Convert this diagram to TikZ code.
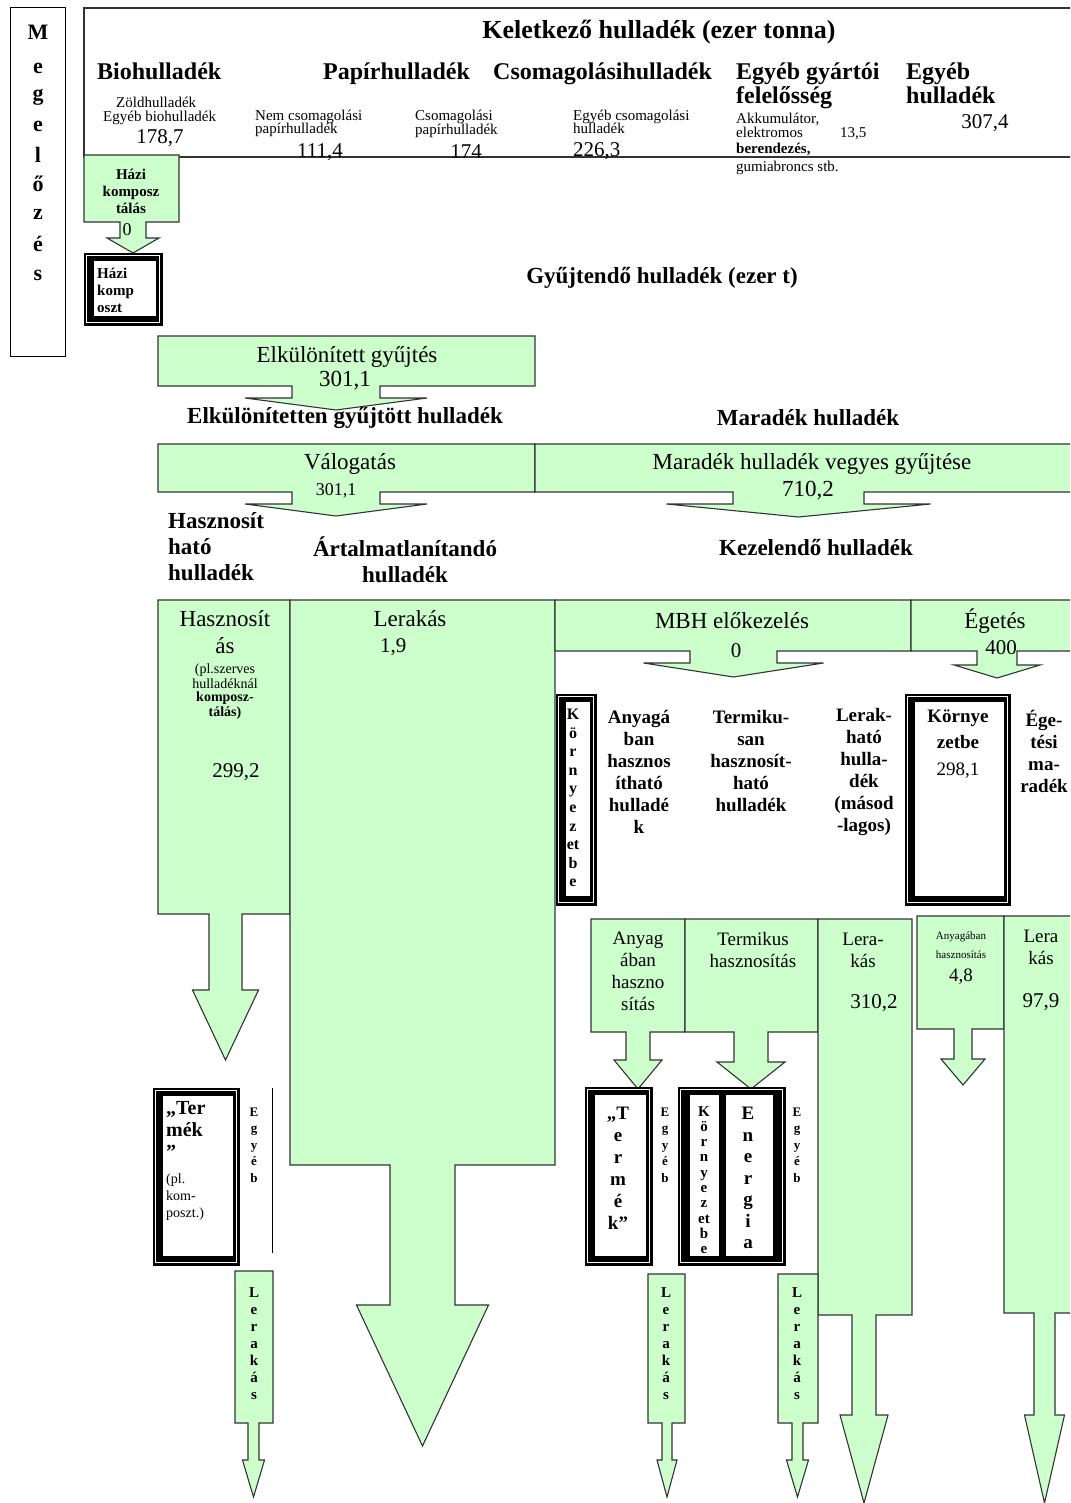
\documentclass[tikz,border=0pt]{standalone}
\usepackage{fontspec}
\setmainfont{Liberation Serif}
\definecolor{boxgreen}{RGB}{204,255,204}

\begin{document}
\begin{tikzpicture}[x=1pt, y=-1pt,
			flow/.style={fill=boxgreen, draw=black!80, line width=1.1pt, line join=miter},
			txt/.style={inner sep=0pt, align=center},
			ttl/.style={txt, font=\fontsize{26}{28}\selectfont\bfseries},
			hdr/.style={txt, anchor=base west, font=\fontsize{24}{26}\selectfont\bfseries},
			lbl/.style={txt, font=\fontsize{23}{26}\selectfont\bfseries},
			boxt/.style={txt, font=\fontsize{23}{27}\selectfont},
			num/.style={txt, font=\fontsize{21}{23}\selectfont},
			sm/.style={txt, anchor=base west, font=\fontsize{15}{13}\selectfont},
			colb/.style={txt, font=\fontsize{19}{22}\selectfont\bfseries},
			cell/.style={txt, font=\fontsize{19}{22}\selectfont},
			stack/.style={txt, font=\fontsize{15}{17}\selectfont\bfseries}
			]
			\useasboundingbox (0,0) rectangle (1070,1503);
			\clip (0,0) rectangle (1070,1503);
			\def\blockarrow#1#2#3#4#5#6#7#8#9{%
				\draw[flow] (#1,#3) -- (#2,#3) -- (#2,#4) -- (#6,#4) -- (#6,#7)
				-- ({(#5+#6)/2+#8},#7) -- ({(#5+#6)/2},#9) -- ({(#5+#6)/2-#8},#7)
				-- (#5,#7) -- (#5,#4) -- (#1,#4) -- cycle;}
			\def\heavyframe#1#2#3#4{%
				\draw[line width=0.8pt, fill=black] (#1,#2) rectangle (#3,#4);
				\draw[line width=0.7pt, white] ({#1+2.5},{#2+2.5}) rectangle ({#3-2.5},{#4-2.5});
				\filldraw[fill=white, draw=black, line width=0.8pt] ({#1+9},{#2+7}) rectangle ({#3-6},{#4-9});}
			
			% Megelozes
			\draw[line width=1pt] (10,8) rectangle (65,356);
			\foreach \ch/\yy in {M/32, e/68, g/97, e/126, l/155, ő/184, z/214, é/244, s/275}
				\node[txt, font=\fontsize{22}{24}\selectfont\bfseries] (meg\yy) at (38,\yy) {\ch};
			
			% keletkezo hulladek
			\draw[line width=1.6pt, black!80] (84,8) rectangle (1080,157);
			\node[ttl] (keletkezo) at (659,32) {Keletkező hulladék (ezer tonna)};
			\node[hdr] (bio) at (97,80) {Biohulladék};
			\node[hdr] (papir) at (323,80) {Papírhulladék};
			\node[hdr] (csomag) at (493,80) {Csomagolásihulladék};
			\node[hdr] (gyartoi) at (736,80) {Egyéb gyártói};
			\node[hdr] (feleloss) at (736,104) {felelősség};
			\node[hdr] (egyeb) at (906,80) {Egyéb};
			\node[hdr] (egyebh) at (906,104) {hulladék};
			\node[sm] (zold) at (116,108) {Zöldhulladék};
			\node[sm] (egyebbio) at (103,122) {Egyéb biohulladék};
			\node[num] (biov) at (160,138) {178,7};
			\node[sm] (nemcs) at (255,121) {Nem csomagolási};
			\node[sm] (nemcsb) at (255,134) {papírhulladék};
			\node[num] (nemcsv) at (320,152) {111,4};
			\node[sm] (csp) at (415,121) {Csomagolási};
			\node[sm] (cspb) at (415,135) {papírhulladék};
			\node[num] (cspv) at (466,152) {174};
			\node[sm] (egycs) at (573,121) {Egyéb csomagolási};
			\node[sm] (egycsb) at (573,134) {hulladék};
			\node[num, anchor=west] (egycsv) at (573,151) {226,3};
			\node[sm] (akku) at (736,124) {Akkumulátor,};
			\node[sm] (elektr) at (736,138) {elektromos};
			\node[sm] (gyartv) at (840,138) {13,5};
			\node[sm, font=\fontsize{15}{13}\selectfont\bfseries] (berend) at (736,154) {berendezés,};
			\node[sm] (gumi) at (736,172) {gumiabroncs stb.};
			\node[num] (egyebv) at (985,123) {307,4};
			
			% hazi komposztalas
			\blockarrow{84}{179}{155}{222}{120}{146}{238}{26}{253}
			\node[txt, font=\fontsize{15}{17}\selectfont\bfseries] (hazik) at (131,191) {Házi\\komposz\\tálás};
			\node[num, font=\fontsize{18}{20}\selectfont] (haziv) at (127,230) {0};
			\heavyframe{84}{253}{162}{325}
			\node[txt, align=left, anchor=west, font=\fontsize{15}{17}\selectfont\bfseries] (hazib) at (97,290) {Házi\\komp\\oszt};
			
			\node[lbl] (gyujtendo) at (662,278) {Gyűjtendő hulladék (ezer t)};
			
			% elkulonitett gyujtes
			\blockarrow{158}{535}{336}{386}{292}{380}{398}{91}{410}
			\node[boxt] (elkul) at (347,357) {Elkülönített gyűjtés};
			\node[boxt] (elkulv) at (345,381) {301,1};
			\node[lbl] (elkulh) at (345,418) {Elkülönítetten gyűjtött hulladék};
			\node[lbl] (maradek) at (808,418) {Maradék hulladék};
			
			\blockarrow{158}{535}{444}{492}{292}{380}{504}{91}{516}
			\node[boxt] (valog) at (350,464) {Válogatás};
			\node[num, font=\fontsize{18}{20}\selectfont] (valogv) at (336,491) {301,1};
			\blockarrow{535}{1080}{444}{492}{733}{864}{504}{132}{517}
			\node[boxt] (vegyes) at (812,464) {Maradék hulladék vegyes gyűjtése};
			\node[boxt] (vegyesv) at (808,491) {710,2};
			
			\node[lbl, align=left, anchor=west] (haszn) at (168,547) {Hasznosít\\ható\\hulladék};
			\node[lbl] (artalm) at (405,560) {Ártalmatlanítandó\\hulladék};
			\node[lbl] (kezel) at (816,548) {Kezelendő hulladék};
			
			% kezeles
			\blockarrow{158}{290}{600}{914}{209}{242}{990}{33}{1060}
			\node[boxt] (hasznt) at (225,632) {Hasznosít\\ás};
			\node[txt, font=\fontsize{14}{15}\selectfont] (hasznpl) at (225,676) {(pl.szerves\\hulladéknál};
			\node[txt, font=\fontsize{14}{15}\selectfont\bfseries] (hasznk) at (225,706) {komposz-\\tálás)};
			\node[num] (hasznv) at (236,772) {299,2};
			\blockarrow{290}{555}{600}{1165}{390}{455}{1305}{66}{1446}
			\node[boxt] (lerak) at (410,619) {Lerakás};
			\node[num, anchor=west] (lerakv) at (380,647) {1,9};
			\blockarrow{555}{911}{600}{651}{690}{777}{663}{90}{677}
			\node[boxt] (mbh) at (732,621) {MBH előkezelés};
			\node[num] (mbhv) at (736,651) {0};
			\blockarrow{911}{1080}{600}{651}{977}{1017}{665}{43}{678}
			\node[boxt] (eget) at (995,621) {Égetés};
			\node[num] (egetv) at (1001,648) {400};
			
			\heavyframe{556}{694}{596}{905}
			\node[txt, font=\fontsize{16}{18.6}\selectfont\bfseries] (kornyb) at (573,798) {K\\ö\\r\\n\\y\\e\\z\\et\\b\\e};
			\node[colb] (anyaga) at (639,772) {Anyagá\\ban\\hasznos\\ítható\\hulladé\\k};
			\node[colb] (termiku) at (751,761) {Termiku-\\san\\hasznosít-\\ható\\hulladék};
			\node[colb] (lerakh) at (864,772) {Lerak-\\ható\\hulla-\\dék\\(másod\\-lagos)};
			\heavyframe{905}{694}{1010}{905}
			\node[colb, font=\fontsize{19}{26}\selectfont\bfseries] (kornyj) at (958,729) {Környe\\zetbe};
			\node[num, font=\fontsize{19}{21}\selectfont] (kornyjv) at (958,771) {298,1};
			\node[colb] (egetm) at (1044,751) {Ége-\\tési\\ma-\\radék};
			
			\blockarrow{591}{685}{919}{1032}{626}{650}{1060}{24}{1089}
			\node[cell] (anyag) at (638,971) {Anyag\\ában\\haszno\\sítás};
			\blockarrow{685}{818}{919}{1032}{734}{768}{1062}{34}{1089}
			\node[cell] (termik) at (753,950) {Termikus\\hasznosítás};
			\blockarrow{818}{912}{919}{1315}{852}{876}{1415}{24}{1503}
			\node[cell] (lerakm) at (863,950) {Lera-\\kás};
			\node[num] (lerakmv) at (874,1003) {310,2};
			\blockarrow{917}{1004}{916}{1029}{954}{972}{1059}{22}{1085}
			\node[txt, font=\fontsize{11}{19}\selectfont] (anyagj) at (961,945) {Anyagában\\hasznosítás};
			\node[num, font=\fontsize{19}{21}\selectfont] (anyagjv) at (961,977) {4,8};
			\blockarrow{1004}{1080}{916}{1313}{1034}{1055}{1415}{20}{1503}
			\node[cell] (lerakj) at (1041,947) {Lera\\kás};
			\node[num] (lerakjv) at (1041,1002) {97,9};
			
			% termek, energia
			\heavyframe{153}{1088}{239}{1265}
			\node[txt, align=left, anchor=north west, font=\fontsize{20}{22}\selectfont\bfseries] (termekb) at (166,1101) {„Ter\\mék\\”};
			\node[txt, align=left, anchor=north west, font=\fontsize{14}{17}\selectfont] (termekpl) at (166,1174) {(pl.\\kom-\\poszt.)};
			\draw[line width=0.8pt] (272,1088) -- (272,1253);
			\node[stack, font=\fontsize{13}{16.5}\selectfont\bfseries] (egyebb) at (254,1145) {E\\g\\y\\é\\b};
			\blockarrow{235}{273}{1271}{1423}{248}{259}{1460}{11}{1497}
			\node[stack] (lerakb) at (254,1344) {L\\e\\r\\a\\k\\á\\s};
			
			\heavyframe{585}{1087}{652}{1265}
			\node[txt, font=\fontsize{19}{22}\selectfont\bfseries] (termekm) at (618,1168) {„T\\e\\r\\m\\é\\k”};
			\node[stack, font=\fontsize{13}{16.5}\selectfont\bfseries] (egyebm) at (665,1145) {E\\g\\y\\é\\b};
			\draw[line width=0.8pt, fill=black] (678,1087) rectangle (785,1265);
			\draw[line width=0.7pt, white] (680.5,1089.5) rectangle (782.5,1262.5);
			\filldraw[fill=white, draw=black, line width=0.8pt] (689,1094) rectangle (719,1256);
			\filldraw[fill=white, draw=black, line width=0.8pt] (725,1094) rectangle (773,1256);
			\node[txt, font=\fontsize{15}{15.3}\selectfont\bfseries] (kornym) at (704,1180) {K\\ö\\r\\n\\y\\e\\z\\et\\b\\e};
			\node[txt, font=\fontsize{19}{21.5}\selectfont\bfseries] (energia) at (748,1178) {E\\n\\e\\r\\g\\i\\a};
			\node[stack, font=\fontsize{13}{16.5}\selectfont\bfseries] (egyebe) at (797,1145) {E\\g\\y\\é\\b};
			\blockarrow{648}{685}{1274}{1423}{662}{672}{1460}{10}{1497}
			\node[stack] (lerakc) at (666,1344) {L\\e\\r\\a\\k\\á\\s};
			\blockarrow{778}{818}{1274}{1423}{792}{803}{1460}{11}{1497}
			\node[stack] (lerakd) at (797,1344) {L\\e\\r\\a\\k\\á\\s};
		\end{tikzpicture}
\end{document}
